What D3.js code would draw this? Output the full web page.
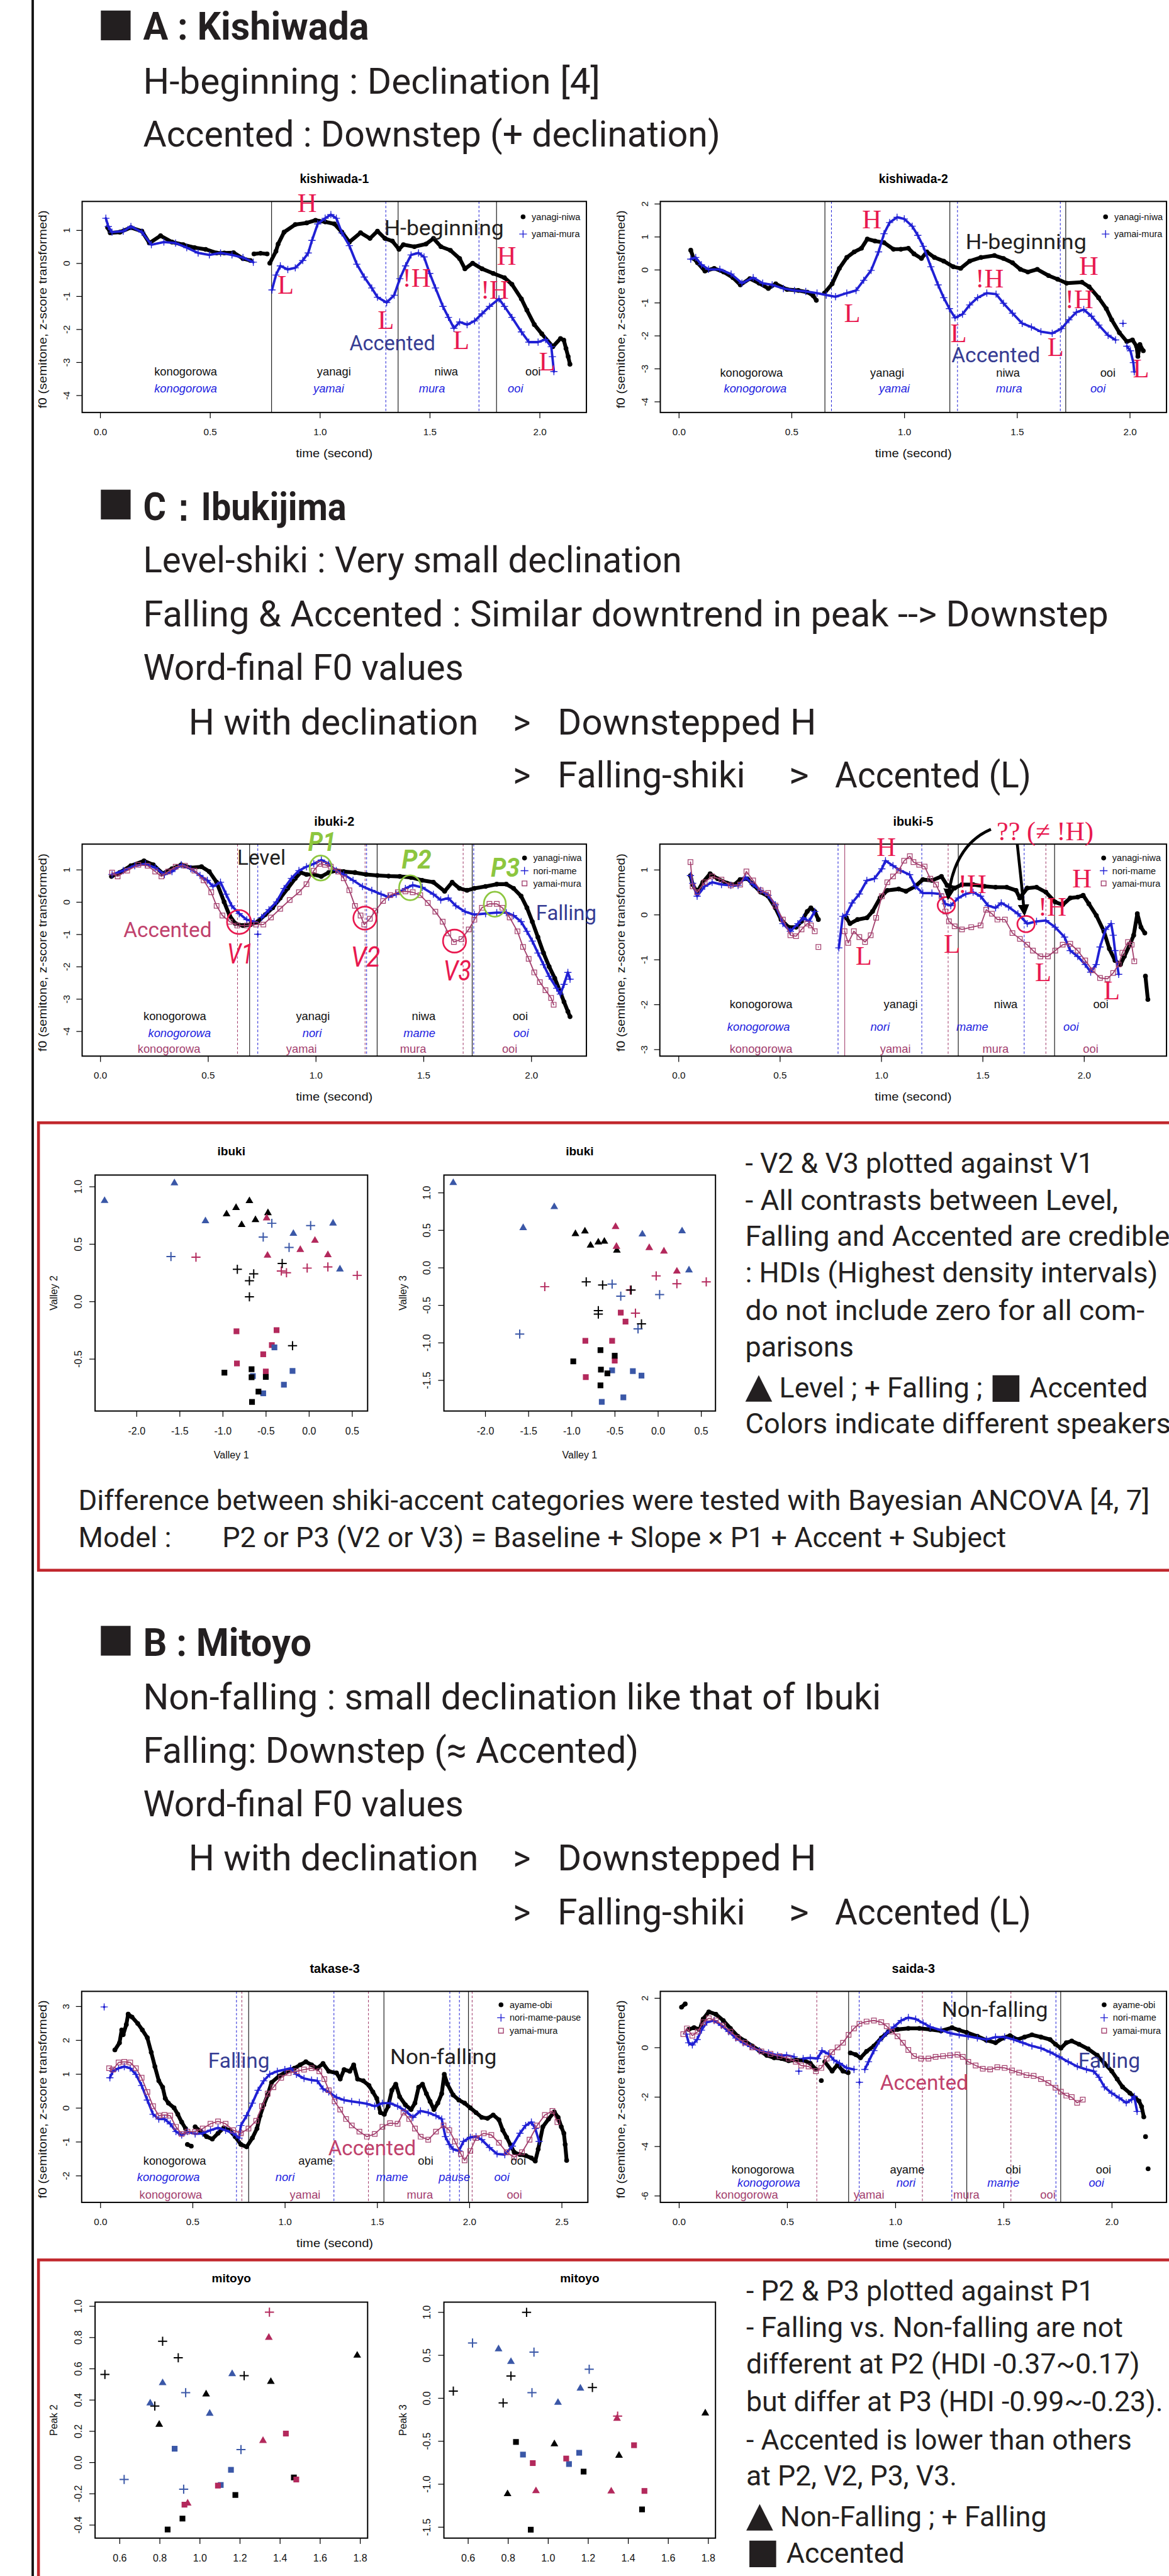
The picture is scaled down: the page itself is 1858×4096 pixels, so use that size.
<!DOCTYPE html>
<html>
<head>
<meta charset="utf-8">
<script src="https://cdn.jsdelivr.net/npm/d3@7"></script>
<style>
  body { margin: 0; background: #fff; }
  svg { display: block; }
</style>
</head>
<body>
<div id="chart"></div>
<script>
// ---------- f0 tracks: [time (s), f0 (z-score)], null = gap ----------
const kishi1Niwa = [[0.034,1.08],[0.046,0.92],[0.09,0.94],[0.14,1.08],[0.19,0.97],[0.224,0.61],[0.275,0.83],[0.327,0.64],[0.378,0.56],[0.43,0.47],[0.48,0.42],[0.53,0.31],[0.565,0.31],[0.607,0.32],[0.65,0.14],[0.684,0.08],null,[0.70,0.28],[0.73,0.30],[0.76,0.28],null,[0.772,0.0],[0.80,0.36],[0.81,0.58],[0.837,0.94],[0.888,1.17],[0.94,1.22],[0.98,1.30],[1.024,1.25],[1.066,1.19],[1.10,0.94],[1.134,0.64],[1.185,0.92],[1.228,0.75],[1.262,0.97],[1.296,0.75],[1.33,0.67],[1.36,0.42],[1.38,0.56],[1.43,0.50],[1.483,0.58],[1.517,0.75],[1.551,0.50],[1.594,0.39],[1.636,0.14],[1.66,-0.17],[1.695,0.0],[1.738,-0.17],[1.789,-0.31],[1.84,-0.44],[1.874,-0.64],[1.917,-1.08],[1.942,-1.42],[1.976,-1.86],[2.01,-2.14],[2.06,-2.53],[2.095,-2.28],[2.11,-2.33],[2.12,-2.58],[2.13,-2.83],[2.138,-3.06]];
const kishi1Mura = [[0.026,1.36],[0.037,1.11],[0.054,0.94],[0.105,0.97],[0.14,1.11],[0.19,0.94],[0.233,0.56],[0.29,0.64],[0.343,0.61],[0.394,0.47],[0.446,0.31],[0.497,0.25],[0.548,0.31],[0.60,0.25],[0.65,0.17],[0.697,0.03],null,[0.782,-0.81],[0.80,-0.36],[0.82,-0.08],[0.854,-0.19],[0.888,-0.14],[0.922,0.08],[0.947,0.31],[0.964,0.69],[0.99,1.19],[1.024,1.36],[1.05,1.47],[1.075,1.36],[1.10,0.92],[1.134,0.53],[1.168,-0.03],[1.202,-0.42],[1.236,-0.75],[1.262,-1.03],[1.304,-1.19],[1.338,-0.97],[1.364,-0.47],[1.39,-0.08],[1.415,0.25],[1.449,0.31],[1.474,0.19],[1.50,-0.31],[1.526,-0.75],[1.56,-1.31],[1.585,-1.64],[1.61,-1.97],[1.636,-1.78],[1.67,-1.86],[1.704,-1.75],[1.738,-1.53],[1.772,-1.31],[1.815,-1.08],[1.84,-1.31],[1.874,-1.64],[1.917,-2.08],[1.951,-2.39],[1.993,-2.39],[2.027,-2.31],[2.053,-2.53],[2.058,-2.83],[2.065,-3.28]];
const kishi2Niwa = [[0.053,0.59],[0.066,0.34],[0.083,0.21],[0.116,-0.04],[0.157,0.04],[0.199,-0.07],[0.24,-0.24],[0.273,-0.46],[0.315,-0.27],[0.356,-0.41],[0.397,-0.57],[0.43,-0.43],[0.48,-0.60],[0.53,-0.63],[0.57,-0.68],[0.596,-0.79],[0.61,-0.93],null,[0.646,-0.71],[0.68,-0.43],[0.712,0.04],[0.745,0.37],[0.778,0.54],[0.81,0.65],[0.836,0.93],[0.87,0.87],[0.91,0.82],[0.952,0.62],[0.985,0.62],[1.018,0.65],[1.043,0.48],[1.076,0.34],[1.10,0.54],[1.134,0.37],[1.175,0.26],[1.217,0.09],[1.25,0.04],[1.29,0.26],[1.34,0.37],[1.40,0.43],[1.44,0.34],[1.48,0.21],[1.515,0.01],[1.548,-0.07],[1.59,0.01],[1.64,-0.18],[1.68,-0.29],[1.72,-0.41],[1.788,-0.38],[1.82,-0.52],[1.862,-0.85],[1.896,-1.18],[1.92,-1.52],[1.954,-1.91],[1.987,-2.18],[2.012,-2.13],[2.03,-2.32],[2.036,-2.63],[2.045,-2.27],[2.06,-2.46]];
const kishi2Mura = [[0.053,0.32],[0.075,0.37],[0.10,0.15],[0.132,0.01],[0.182,0.01],[0.232,-0.13],[0.28,-0.41],[0.33,-0.24],[0.372,-0.41],[0.414,-0.46],[0.464,-0.57],[0.513,-0.63],[0.563,-0.66],[0.613,-0.71],[0.654,-0.77],[0.695,-0.82],[0.745,-0.71],[0.786,-0.63],[0.82,-0.32],[0.853,-0.02],[0.886,0.54],[0.91,1.09],[0.935,1.43],[0.968,1.59],[1.0,1.54],[1.035,1.32],[1.06,1.04],[1.084,0.71],[1.118,0.09],[1.15,-0.46],[1.175,-0.85],[1.20,-1.18],[1.225,-1.46],[1.258,-1.35],[1.29,-1.07],[1.325,-0.85],[1.366,-0.71],[1.407,-0.74],[1.44,-1.02],[1.48,-1.32],[1.523,-1.63],[1.564,-1.74],[1.606,-1.88],[1.656,-1.93],[1.697,-1.79],[1.73,-1.52],[1.763,-1.29],[1.796,-1.21],[1.83,-1.41],[1.863,-1.68],[1.904,-1.99],[1.937,-2.13],null,[1.97,-1.63],null,[1.987,-2.32],[2.003,-2.46],[2.016,-2.82],[2.02,-3.10]];

const ibuki2Niwa = [[0.052,0.79],[0.09,0.91],[0.142,1.12],[0.203,1.27],[0.246,1.15],[0.29,0.88],[0.333,1.03],[0.376,1.15],[0.42,1.06],[0.47,1.09],[0.506,0.94],[0.54,0.61],[0.575,0.0],[0.60,-0.42],[0.627,-0.67],[0.662,-0.73],[0.697,-0.70],[0.731,-0.61],[0.766,-0.39],[0.80,-0.18],[0.835,0.12],[0.87,0.42],[0.905,0.73],[0.93,0.91],[0.957,0.85],[0.99,0.85],[1.026,0.79],[1.06,0.91],[1.095,0.97],[1.13,0.94],[1.182,0.91],[1.234,0.85],[1.286,0.82],[1.338,0.80],[1.39,0.79],[1.442,0.76],[1.494,0.67],[1.546,0.61],[1.598,0.33],[1.633,0.61],[1.667,0.42],[1.702,0.36],[1.736,0.42],[1.788,0.48],[1.84,0.55],[1.884,0.55],[1.918,0.42],[1.953,0.18],[1.98,-0.18],[2.005,-0.61],[2.031,-1.09],[2.057,-1.58],[2.083,-2.0],[2.109,-2.36],[2.135,-2.79],[2.152,-3.09],[2.17,-3.39],[2.18,-3.55]];
const ibuki2Mame = [[0.055,0.85],[0.107,0.97],[0.16,1.12],[0.21,1.18],[0.255,1.06],[0.298,0.85],[0.333,0.94],[0.376,1.15],[0.42,1.03],[0.463,0.82],[0.497,0.67],[0.523,0.48],[0.558,0.61],[0.584,0.24],[0.61,-0.12],[0.645,-0.36],[0.68,-0.55],[0.714,-0.61],null,[0.731,-1.0],null,[0.749,-0.48],[0.783,-0.24],[0.818,0.0],[0.853,0.42],[0.887,0.73],[0.922,0.97],[0.957,1.09],[0.991,1.18],[1.026,1.30],[1.06,1.18],[1.095,0.97],[1.13,0.85],[1.173,0.67],[1.217,0.48],[1.26,0.36],[1.303,0.24],[1.338,0.15],[1.373,0.24],[1.416,0.42],[1.45,0.52],[1.494,0.45],[1.546,0.24],[1.58,0.06],[1.615,0.12],[1.65,-0.12],[1.693,-0.30],[1.736,-0.39],[1.788,-0.36],[1.84,-0.33],[1.884,-0.33],[1.918,-0.42],[1.953,-0.61],[1.98,-0.91],[2.005,-1.21],[2.031,-1.58],[2.057,-1.94],[2.083,-2.30],[2.118,-2.67],[2.135,-2.85],[2.152,-2.55],[2.17,-2.18],[2.18,-2.39]];
const ibuki2Mura = [[0.055,0.91],[0.081,0.79],[0.125,0.97],[0.177,1.15],[0.22,1.12],[0.255,0.94],[0.284,0.79],[0.315,0.94],[0.35,1.09],[0.393,1.12],[0.437,0.97],[0.48,0.67],[0.515,0.30],[0.54,-0.12],[0.567,-0.42],[0.601,-0.61],[0.636,-0.73],[0.68,-0.73],[0.723,-0.70],[0.757,-0.70],[0.792,-0.48],[0.835,-0.21],[0.879,0.06],[0.922,0.30],[0.957,0.55],[0.991,0.97],[1.017,1.18],[1.043,1.15],[1.07,1.09],[1.104,0.94],[1.13,0.73],[1.156,0.36],[1.182,-0.12],[1.208,-0.42],[1.225,-0.70],[1.251,-0.52],[1.277,-0.27],[1.312,0.03],[1.346,0.21],[1.381,0.30],[1.416,0.33],[1.45,0.30],[1.485,0.21],[1.52,-0.03],[1.555,-0.30],[1.589,-0.61],[1.615,-0.97],[1.641,-1.24],[1.676,-1.15],[1.71,-0.85],[1.736,-0.55],[1.771,-0.18],[1.806,-0.06],[1.84,-0.06],[1.866,-0.18],[1.90,-0.48],[1.936,-0.91],[1.962,-1.39],[1.988,-1.76],[2.014,-2.18],[2.04,-2.48],[2.066,-2.73],[2.092,-2.97],[2.104,-3.18]];

const ibuki5Niwa = [[0.059,0.87],[0.07,0.67],[0.092,0.50],[0.12,0.72],[0.156,0.91],[0.193,0.80],[0.239,0.70],[0.276,0.67],[0.304,0.78],[0.34,0.80],[0.368,0.67],[0.405,0.50],[0.442,0.41],[0.478,0.15],[0.506,-0.11],[0.543,-0.28],[0.58,-0.28],[0.607,-0.15],[0.635,0.07],[0.653,0.15],[0.672,0.07],[0.69,-0.11],null,[0.828,-0.07],[0.846,-0.20],[0.883,-0.11],[0.93,-0.07],[0.957,0.07],[0.994,0.37],[1.03,0.54],[1.086,0.57],[1.122,0.52],[1.168,0.63],[1.205,0.78],[1.25,0.76],[1.297,0.85],[1.325,0.65],[1.362,0.59],[1.398,0.67],[1.453,0.67],[1.509,0.63],[1.564,0.61],[1.619,0.61],[1.665,0.54],[1.683,0.37],[1.72,0.59],[1.766,0.61],[1.812,0.50],[1.858,0.28],[1.895,0.22],[1.932,0.37],[1.969,0.39],[1.996,0.43],[2.024,0.24],[2.061,-0.02],[2.098,-0.37],[2.125,-0.76],[2.153,-1.02],[2.18,-1.11],[2.199,-0.93],[2.226,-0.67],[2.245,-0.46],[2.263,0.02],[2.281,-0.28],[2.30,-0.41],null,[2.303,-1.37],[2.315,-1.89]];
const ibuki5Mame = [[0.059,0.87],[0.07,0.70],[0.092,0.41],[0.129,0.63],[0.166,0.72],[0.212,0.67],[0.258,0.65],[0.294,0.65],[0.331,0.83],[0.368,0.67],[0.405,0.54],[0.442,0.43],[0.478,0.22],[0.515,-0.20],[0.552,-0.37],[0.589,-0.20],[0.616,-0.07],[0.644,-0.15],[0.672,0.07],null,[0.791,-0.74],[0.81,-0.04],[0.828,0.0],[0.856,0.26],[0.892,0.46],[0.929,0.76],[0.966,0.80],[1.003,1.02],[1.021,1.20],[1.058,1.09],[1.095,0.98],[1.14,0.89],[1.168,0.63],[1.205,0.48],[1.25,0.48],[1.288,0.46],[1.316,0.24],[1.343,0.20],[1.38,0.37],[1.417,0.46],[1.453,0.50],[1.49,0.41],[1.527,0.20],[1.564,0.15],[1.592,0.26],[1.628,0.17],[1.674,0.02],[1.72,-0.20],[1.766,-0.15],[1.812,-0.13],[1.858,-0.28],[1.904,-0.50],[1.932,-0.80],[1.969,-0.93],[2.006,-1.11],[2.033,-1.28],[2.06,-1.11],[2.079,-0.72],[2.107,-0.33],[2.134,-0.20],[2.144,-0.46],[2.153,-0.80],[2.171,-1.33]];
const ibuki5Mura = [[0.059,1.17],[0.07,0.63],[0.092,0.50],[0.129,0.72],[0.166,0.85],[0.212,0.78],[0.258,0.65],[0.304,0.67],[0.335,0.96],[0.368,0.76],[0.405,0.54],[0.442,0.48],[0.478,0.20],[0.515,-0.11],[0.552,-0.46],[0.58,-0.48],[0.607,-0.33],[0.635,-0.20],[0.653,-0.24],[0.672,-0.37],null,[0.69,-0.72],null,[0.819,-0.37],[0.837,-0.63],[0.865,-0.37],[0.892,-0.50],[0.92,-0.61],[0.948,-0.46],[0.975,-0.07],[1.003,0.41],[1.03,0.72],[1.058,0.85],[1.086,0.98],[1.113,1.20],[1.141,1.30],[1.159,1.17],[1.187,1.11],[1.214,1.07],[1.242,0.80],[1.27,0.67],[1.297,0.41],[1.316,0.07],[1.334,-0.15],[1.362,-0.26],[1.398,-0.33],[1.444,-0.28],[1.49,-0.24],[1.518,0.11],[1.546,0.02],[1.573,-0.11],[1.61,-0.11],[1.647,-0.41],[1.684,-0.54],[1.72,-0.67],[1.748,-0.80],[1.785,-0.93],[1.822,-0.93],[1.858,-0.80],[1.895,-0.67],[1.932,-0.65],[1.969,-0.80],[2.006,-1.02],[2.042,-1.24],[2.079,-1.41],[2.116,-1.43],[2.144,-1.30],[2.171,-1.11],[2.189,-0.85],[2.217,-0.61],[2.235,-0.67],[2.248,-1.04]];

const takaseObi = [[0.079,1.71],[0.104,1.92],[0.116,2.30],[0.124,2.16],[0.141,2.46],[0.151,2.77],[0.172,2.68],[0.203,2.49],[0.228,2.30],[0.255,2.07],[0.276,1.64],[0.296,1.22],[0.317,0.80],[0.338,0.61],[0.352,0.28],[0.369,0.14],[0.40,0.0],[0.42,-0.19],[0.441,-0.42],[0.462,-0.61],null,[0.472,-1.08],[0.493,-1.13],null,[0.514,-0.56],[0.545,-0.70],[0.576,-0.85],[0.607,-0.92],[0.638,-0.75],[0.669,-0.59],[0.70,-0.66],[0.731,-0.85],[0.762,-1.08],[0.793,-1.15],[0.824,-0.89],[0.849,-0.61],[0.866,-0.23],[0.886,0.09],[0.907,0.38],[0.928,0.75],[0.969,0.94],[1.01,1.08],[1.052,1.17],[1.083,1.27],[1.114,1.36],[1.145,1.27],[1.176,1.17],[1.207,1.31],[1.238,1.08],[1.28,1.03],[1.30,0.85],[1.321,1.13],[1.352,1.08],[1.373,1.27],[1.394,0.85],[1.425,0.80],[1.456,0.66],[1.477,0.47],[1.498,0.28],[1.518,-0.14],[1.539,-0.19],[1.56,0.05],[1.58,0.52],[1.601,0.70],[1.622,0.33],[1.653,0.09],[1.684,-0.05],[1.705,0.14],[1.725,0.61],[1.746,0.70],[1.767,0.42],[1.787,0.19],[1.808,-0.05],[1.829,0.14],[1.85,0.42],[1.864,0.99],[1.881,0.70],[1.912,0.38],[1.943,0.23],[1.974,0.14],[2.005,0.0],[2.036,-0.14],[2.067,-0.28],[2.098,-0.31],[2.129,-0.21],[2.16,-0.35],[2.181,-0.66],[2.202,-0.87],[2.223,-1.10],[2.243,-1.31],[2.274,-1.38],[2.305,-1.41],[2.336,-1.48],[2.357,-1.57],[2.373,-1.22],[2.398,-0.56],[2.429,-0.33],[2.46,-0.12],[2.481,-0.28],[2.498,-0.56],[2.512,-0.75],[2.519,-1.08],[2.527,-1.55]];
const takaseMame = [[0.021,2.98],null,[0.052,0.89],[0.068,1.08],[0.099,1.17],[0.13,1.22],[0.162,1.17],[0.193,0.99],[0.224,0.66],[0.255,0.23],[0.286,-0.19],[0.317,-0.33],[0.348,-0.33],[0.379,-0.47],[0.41,-0.70],[0.441,-0.80],[0.472,-0.70],[0.514,-0.77],[0.555,-0.75],[0.597,-0.66],[0.638,-0.59],[0.679,-0.66],[0.72,-0.75],[0.752,-0.89],[0.762,-0.52],[0.793,-0.23],[0.824,0.14],[0.855,0.52],[0.886,0.80],[0.918,0.99],[0.959,1.08],[1.0,1.13],[1.031,1.17],[1.063,0.99],[1.104,0.87],[1.145,0.82],[1.176,0.80],[1.207,0.56],[1.238,0.47],[1.28,0.31],[1.321,0.23],[1.362,0.19],[1.404,0.16],[1.445,0.12],[1.487,0.05],[1.529,0.14],[1.57,0.14],[1.611,0.05],[1.653,-0.09],[1.694,-0.28],[1.735,-0.09],[1.777,-0.14],[1.819,-0.23],[1.85,-0.33],[1.87,-0.85],[1.891,-1.08],[1.912,-1.22],[1.943,-1.27],[1.968,-0.99],[2.005,-0.87],[2.036,-0.85],[2.067,-0.94],[2.109,-1.17],[2.15,-1.36],[2.192,-1.38],[2.233,-1.13],[2.274,-0.75],[2.305,-0.52],[2.336,-0.42],[2.357,-0.61],[2.378,-0.99]];
const takaseMura = [[0.048,1.17],[0.068,1.13],[0.099,1.34],[0.13,1.36],[0.162,1.34],[0.193,1.17],[0.224,0.89],[0.255,0.47],[0.286,0.05],[0.317,-0.23],[0.348,-0.21],[0.379,-0.23],[0.41,-0.56],[0.441,-0.77],[0.472,-0.70],[0.514,-0.70],[0.555,-0.61],[0.597,-0.47],[0.638,-0.40],[0.679,-0.47],[0.72,-0.66],[0.762,-0.75],[0.803,-0.61],[0.845,-0.38],[0.876,0.05],[0.907,0.42],[0.938,0.61],[0.98,0.89],[1.021,1.03],[1.063,1.08],[1.104,1.13],[1.145,1.17],[1.187,1.08],[1.214,0.85],[1.238,0.52],[1.27,0.19],[1.30,-0.05],[1.332,-0.33],[1.363,-0.52],[1.404,-0.70],[1.445,-0.85],[1.487,-0.77],[1.529,-0.56],[1.57,-0.45],[1.611,-0.47],[1.643,-0.14],[1.674,-0.33],[1.705,-0.61],[1.736,-0.85],[1.777,-0.94],[1.819,-0.70],[1.86,-0.52],[1.891,-0.66],[1.922,-0.99],[1.954,-1.36],[1.974,-1.55],[2.005,-1.27],[2.036,-0.89],[2.078,-0.75],[2.119,-0.80],[2.16,-1.03],[2.202,-1.31],[2.243,-1.46],[2.285,-1.31],[2.326,-0.94],[2.367,-0.52],[2.409,-0.21],[2.45,-0.09],[2.477,-0.42]];

const saidaObi = [[0.012,1.63],[0.029,1.76],null,[0.045,0.73],[0.07,0.80],[0.096,0.73],[0.112,1.15],[0.138,1.44],[0.171,1.34],[0.205,1.09],[0.238,0.77],[0.272,0.45],[0.305,0.26],[0.339,0.06],[0.372,-0.13],[0.406,-0.32],[0.44,-0.42],[0.473,-0.45],[0.507,-0.54],[0.54,-0.51],[0.574,-0.51],[0.607,-0.64],[0.633,-0.89],null,[0.658,-1.34],null,[0.674,-0.58],[0.708,-0.96],[0.733,-0.70],[0.758,-0.96],[0.782,-1.02],null,[0.792,-0.22],[0.817,-0.29],[0.839,-0.42],[0.867,-0.16],[0.901,0.06],[0.935,0.38],[0.968,0.64],[1.01,0.73],[1.06,0.77],[1.111,0.77],[1.161,0.73],[1.211,0.67],[1.262,0.80],[1.295,0.70],[1.329,0.61],[1.379,0.45],[1.421,0.29],[1.463,0.19],[1.497,0.38],[1.53,0.48],[1.564,0.32],[1.597,0.42],[1.631,0.51],[1.673,0.42],[1.715,0.32],[1.74,0.13],[1.765,-0.03],[1.79,0.19],[1.815,0.26],[1.849,0.13],[1.891,-0.06],[1.933,-0.32],[1.966,-0.64],[2.0,-0.96],[2.025,-1.28],[2.05,-1.60],[2.084,-1.85],[2.109,-2.04],[2.126,-2.17],[2.138,-2.40],[2.148,-2.81],null,[2.156,-3.61],null,[2.168,-4.91]];
const saidaMame = [[0.034,0.54],[0.045,0.19],[0.062,0.10],[0.084,0.32],[0.104,0.70],[0.129,1.02],[0.163,1.09],[0.196,0.89],[0.23,0.64],[0.263,0.38],[0.297,0.19],[0.331,0.03],[0.372,-0.13],[0.414,-0.22],[0.456,-0.32],[0.498,-0.32],[0.532,-0.38],null,[0.554,-0.96],null,[0.574,-0.45],[0.607,-0.42],[0.641,-0.45],[0.661,-0.13],[0.691,-0.26],[0.716,-0.51],[0.742,-0.64],[0.775,-0.83],[0.809,-0.89],null,[0.834,-1.41],null,[0.859,-0.89],[0.876,-0.58],[0.901,-0.13],[0.926,0.26],[0.96,0.58],[0.993,0.83],[1.027,1.09],[1.06,1.21],[1.094,1.15],[1.128,0.99],[1.161,0.83],[1.211,0.70],[1.253,0.58],[1.295,0.51],[1.337,0.45],[1.379,0.38],[1.421,0.32],[1.463,0.42],[1.505,0.42],[1.547,0.32],[1.589,0.19],[1.631,0.06],[1.673,-0.03],[1.715,-0.19],[1.757,-0.38],[1.799,-0.58],[1.841,-0.77],[1.883,-0.89],[1.916,-0.96],[1.941,-1.21],[1.966,-1.60],[2.0,-1.85],[2.034,-2.04],[2.067,-2.24],[2.092,-2.11],[2.104,-1.98],[2.117,-2.59]];
const saidaMura = [[0.02,0.54],[0.037,0.77],[0.062,0.48],[0.087,0.64],[0.112,1.02],[0.138,1.18],[0.171,1.09],[0.205,0.89],[0.238,0.64],[0.272,0.38],[0.305,0.19],[0.339,0.0],[0.381,-0.16],[0.423,-0.26],[0.465,-0.35],[0.507,-0.45],[0.54,-0.58],[0.565,-0.73],[0.599,-0.77],[0.633,-0.96],[0.658,-0.83],[0.683,-0.45],[0.708,-0.19],[0.733,0.0],[0.758,0.19],[0.784,0.51],[0.809,0.77],[0.834,0.96],[0.867,1.05],[0.901,1.09],[0.935,1.02],[0.96,0.86],[0.985,0.64],[1.01,0.45],[1.035,0.19],[1.06,-0.10],[1.086,-0.35],[1.119,-0.45],[1.153,-0.45],[1.186,-0.38],[1.22,-0.35],[1.253,-0.32],[1.287,-0.29],[1.312,-0.38],[1.337,-0.58],[1.371,-0.73],[1.404,-0.86],[1.438,-0.89],[1.471,-0.80],[1.505,-0.83],[1.539,-0.93],[1.572,-1.02],[1.606,-1.12],[1.639,-1.15],[1.673,-1.28],[1.707,-1.44],[1.74,-1.63],[1.765,-1.79],[1.79,-1.95],[1.815,-2.01],[1.84,-2.24],[1.866,-2.11]];

// segment boundaries: [time, kind]  s = solid, b = blue dashed, p = purple dashed, ps = purple solid
const kishi1Bounds = [[0.78,"s"],[1.356,"s"],[1.804,"s"],[1.30,"b"],[1.724,"b"]];
const kishi2Bounds = [[0.648,"s"],[1.202,"s"],[1.716,"s"],[0.677,"b"],[1.236,"b"],[1.692,"b"]];
const ibuki2Bounds = [[0.693,"s"],[1.285,"s"],[1.726,"s"],[0.731,"b"],[1.236,"b"],[1.733,"b"],[0.637,"p"],[1.229,"p"],[1.684,"p"]];
const ibuki5Bounds = [[1.38,"s"],[1.855,"s"],[0.82,"ps"],[0.787,"b"],[1.2,"b"],[1.705,"b"],[1.33,"p"],[1.812,"p"]];
const takaseBounds = [[0.804,"s"],[1.537,"s"],[1.995,"s"],[0.738,"b"],[1.266,"b"],[1.894,"b"],[1.946,"b"],[0.767,"p"],[1.453,"p"],[2.015,"p"]];
const saidaBounds = [[0.784,"s"],[1.33,"s"],[1.764,"s"],[0.833,"b"],[1.261,"b"],[1.742,"b"],[0.637,"p"],[1.125,"p"],[1.534,"p"]];

// word labels: [text, time, f0, row colour]
const kishi1Words = [["konogorowa",0.389,-3.27,"k"],["konogorowa",0.389,-3.79,"b"],["yanagi",1.064,-3.27,"k"],["yamai",1.04,-3.79,"b"],["niwa",1.575,-3.27,"k"],["mura",1.51,-3.79,"b"],["ooi",1.97,-3.27,"k"],["ooi",1.89,-3.79,"b"]];
const kishi2Words = [["konogorowa",0.322,-3.12,"k"],["konogorowa",0.339,-3.61,"b"],["yanagi",0.924,-3.12,"k"],["yamai",0.956,-3.61,"b"],["niwa",1.46,-3.12,"k"],["mura",1.465,-3.61,"b"],["ooi",1.903,-3.12,"k"],["ooi",1.859,-3.61,"b"]];
const ibuki2Words = [["konogorowa",0.346,-3.54,"k"],["konogorowa",0.368,-4.05,"b"],["konogorowa",0.319,-4.54,"p"],["yanagi",0.987,-3.54,"k"],["nori",0.983,-4.05,"b"],["yamai",0.934,-4.54,"p"],["niwa",1.501,-3.54,"k"],["mame",1.481,-4.05,"b"],["mura",1.452,-4.54,"p"],["ooi",1.949,-3.54,"k"],["ooi",1.953,-4.05,"b"],["ooi",1.90,-4.54,"p"]];
const ibuki5Words = [["konogorowa",0.407,-1.99,"k"],["konogorowa",0.395,-2.49,"b"],["konogorowa",0.407,-2.98,"p"],["yanagi",1.096,-1.99,"k"],["nori",0.994,-2.49,"b"],["yamai",1.07,-2.98,"p"],["niwa",1.614,-1.99,"k"],["mame",1.449,-2.49,"b"],["mura",1.564,-2.98,"p"],["ooi",2.083,-1.99,"k"],["ooi",1.936,-2.49,"b"],["ooi",2.033,-2.98,"p"]];
const takaseWords = [["konogorowa",0.403,-1.56,"k"],["konogorowa",0.369,-2.04,"b"],["konogorowa",0.382,-2.56,"p"],["ayame",1.167,-1.56,"k"],["nori",1.001,-2.04,"b"],["yamai",1.11,-2.56,"p"],["obi",1.763,-1.56,"k"],["mame",1.581,-2.04,"b"],["pause",1.919,-2.04,"b"],["mura",1.732,-2.56,"p"],["ooi",2.265,-1.56,"k"],["ooi",2.176,-2.04,"b"],["ooi",2.244,-2.56,"p"]];
const saidaWords = [["konogorowa",0.388,-4.95,"k"],["konogorowa",0.415,-5.48,"b"],["konogorowa",0.313,-5.96,"p"],["ayame",1.055,-4.95,"k"],["nori",1.049,-5.48,"b"],["yamai",0.878,-5.96,"p"],["obi",1.545,-4.95,"k"],["mame",1.499,-5.48,"b"],["mura",1.328,-5.96,"p"],["ooi",1.962,-4.95,"k"],["ooi",1.929,-5.48,"b"],["ooi",1.705,-5.96,"p"]];

// annotations: [text, time, f0, kind, width]
const kishi1Notes = [["H",0.942,1.56,"hl"],["L",0.844,-0.92,"hl"],["L",1.30,-1.99,"hl"],["!H",1.44,-0.72,"hl"],["L",1.643,-2.60,"hl"],["!H",1.796,-1.08,"hl"],["H",1.85,-0.05,"hl"],["L",2.034,-3.24,"hl"],["H-beginning",1.565,0.84,"ink",249],["Accented",1.33,-2.63,"navy",179]];
const kishi2Notes = [["H",0.856,1.26,"hl"],["L",0.769,-1.58,"hl"],["L",1.241,-2.20,"hl"],["!H",1.378,-0.54,"hl"],["L",1.671,-2.62,"hl"],["H",1.818,-0.16,"hl"],["!H",1.776,-1.16,"hl"],["L",2.05,-3.26,"hl"],["H-beginning",1.54,0.62,"ink",252],["Accented",1.406,-2.81,"navy",185]];
const ibuki2Notes = [["Level",0.748,1.15,"ink",101],["P1",1.029,1.58,"green",58],["P2",1.468,1.03,"green",62],["P3",1.88,0.79,"green",60],["V1",0.65,-1.91,"vred",55],["V2",1.231,-2.01,"vred",61],["V3",1.657,-2.43,"vred",58],["Accented",0.3125,-1.09,"pink",184],["Falling",2.162,-0.57,"navy",126]];
const ibuki5Notes = [["H",1.025,1.31,"hl"],["L",0.914,-1.11,"hl"],["L",1.349,-0.85,"hl"],["!H",1.449,0.48,"hl"],["L",1.799,-1.48,"hl"],["!H",1.844,-0.03,"hl"],["H",1.99,0.60,"hl"],["L",2.137,-1.89,"hl"],["?? (\u2260 !H)",1.808,1.65,"q",202]];
const takaseNotes = [["Falling",0.751,1.19,"navy",128],["Non-falling",1.859,1.30,"ink",222],["Accented",1.473,-1.39,"pink",183]];
const saidaNotes = [["Non-falling",1.46,1.24,"ink",221],["Falling",1.988,-0.82,"navy",129],["Accented",1.133,-1.71,"pink",184]];

// rings round peaks / valleys: [time, f0, colour, rx, ry]
const ibuki2Rings = [[1.023,1.05,"g",23,26],[1.438,0.44,"g",23,26],[1.831,-0.07,"g",23,26],[0.644,-0.62,"r",25,25],[1.228,-0.50,"r",24,24],[1.644,-1.21,"r",24,24]];
const ibuki5Rings = [[1.321,0.21,"r",18,17],[1.714,-0.21,"r",18,17]];
// arrows: [t0, v0, tControl, vControl, t1, v1]
const ibuki5Arrows = [[1.541,1.90,1.359,1.55,1.33,0.37],[1.671,1.57,1.69,0.8,1.706,0.02]];

// scatter: [shape, speaker, V1, V2, V3]
const ibukiRows = [
  ["tri","b",-2.37,0.876,1.13],["tri","b",-1.56,1.03,0.53],["tri","b",-1.20,0.70,0.81],["tri","b",-0.18,0.59,0.445],["tri","b",0.28,0.68,0.487],["tri","b",0.36,0.28,-0.034],
  ["tri","k",-0.955,0.76,0.45],["tri","k",-0.845,0.815,0.485],["tri","k",-0.69,0.875,0.338],["tri","k",-0.475,0.77,0.23],["tri","k",-0.62,0.71,0.348],["tri","k",-0.78,0.667,0.296],
  ["tri","r",-0.49,0.725,0.545],["tri","r",-0.48,0.40,0.28],["tri","r",0.07,0.53,0.217],["tri","r",-0.10,0.45,0.264],["tri","r",0.22,0.405,-0.05],
  ["plus","b",-1.60,0.39,-0.887],["plus","b",-0.53,0.56,-0.22],["plus","b",-0.43,0.68,-0.38],["plus","b",-0.23,0.47,-0.817],["plus","b",0.02,0.66,-0.36],
  ["plus","r",-1.31,0.385,-0.254],["plus","r",-0.32,0.265,-0.30],["plus","r",-0.26,0.25,-0.607],["plus","r",-0.02,0.29,-0.11],["plus","r",0.22,0.30,-0.215],["plus","r",0.56,0.227,-0.19],
  ["plus","k",-0.83,0.28,-0.19],["plus","k",-0.64,0.24,-0.233],["plus","k",-0.69,0.18,-0.573],["plus","k",-0.31,0.33,-0.30],["plus","k",-0.69,0.04,-0.62],["plus","k",-0.19,-0.385,-0.75],
  ["sq","r",-0.84,-0.26,-0.976],["sq","r",-0.835,-0.54,-1.46],["sq","r",-0.375,-0.25,-0.72],["sq","r",-0.43,-0.38,-0.60],["sq","r",-0.53,-0.46,-0.976],["sq","r",-0.50,-0.61,-1.24],
  ["sq","b",-0.40,-0.40,-1.73],["sq","b",-0.19,-0.605,-1.44],["sq","b",-0.65,-0.65,-1.79],["sq","b",-0.29,-0.725,-1.38],["sq","b",-0.53,-0.80,-1.37],
  ["sq","k",-0.98,-0.62,-1.25],["sq","k",-0.665,-0.59,-1.10],["sq","k",-0.665,-0.66,-1.57],["sq","k",-0.50,-0.657,-1.175],["sq","k",-0.585,-0.785,-1.41],["sq","k",-0.66,-0.875,-1.36]
];
// scatter: [shape, speaker, P1, P2, P3]
const mitoyoRows = [
  ["plus","k",0.527,0.562,0.081],["plus","k",0.815,0.775,0.257],["plus","k",0.893,0.669,0.997],["plus","k",0.776,0.360,-0.056],["plus","k",1.222,0.554,0.123],
  ["plus","b",0.623,-0.110,0.641],["plus","b",0.930,0.446,0.535],["plus","b",0.920,-0.172,0.063],["plus","b",1.206,0.081,0.335],
  ["plus","r",1.348,0.961,-0.211],
  ["tri","k",1.786,0.684,-0.176],["tri","k",1.032,0.436,-0.535],["tri","k",0.798,0.242,-1.116],["tri","k",1.355,0.516,-0.669],
  ["tri","b",0.815,0.508,0.423],["tri","b",0.753,0.378,0.570],["tri","b",1.050,0.312,-0.053],["tri","b",1.162,0.566,0.113],
  ["tri","r",1.345,0.798,-0.239],["tri","r",1.316,0.138,-1.085],["tri","r",0.940,-0.262,-1.081],
  ["sq","k",0.840,-0.430,-0.511],["sq","k",0.914,-0.360,-1.532],["sq","k",1.178,-0.209,-0.856],["sq","k",1.470,-0.097,-1.296],
  ["sq","b",0.875,0.087,-0.658],["sq","b",1.156,-0.048,-0.637],["sq","b",1.105,-0.145,-0.768],
  ["sq","r",1.091,-0.149,-0.704],["sq","r",0.924,-0.271,-0.757],["sq","r",1.430,0.184,-0.549],["sq","r",1.482,-0.110,-1.081]
];

// poster text: [text, x, baseline, size, width, bold]
const headings = [
  ["A : Kishiwada",298,83,79,471,true],
  ["H-beginning : Declination [4]",298,195,76,953],
  ["Accented : Downstep (+ declination)",298,306,76,1203],
  ["C\uFF1AIbukijima",298,1084,79,424,true],
  ["Level-shiki : Very small declination",298,1193,76,1123],
  ["Falling & Accented : Similar downtrend in peak --> Downstep",298,1306,76,2012],
  ["Word-final F0 values",298,1417,76,668],
  ["H with declination",393,1531,76,604],[">",1069,1531,76,37],["Downstepped H",1162,1531,76,539],
  [">",1069,1642,76,37],["Falling-shiki",1162,1642,76,391],[">",1644,1642,76,42],["Accented (L)",1740,1642,76,409],
  ["Difference between shiki-accent categories were tested with Bayesian ANCOVA [4, 7]",163,3148,58,2233],
  ["Model :",163,3226,58,194],
  ["P2 or P3 (V2 or V3) = Baseline + Slope \u00D7 P1 + Accent + Subject",463,3226,58,1634],
  ["B : Mitoyo",298,3453,79,351,true],
  ["Non-falling : small declination like that of Ibuki",298,3564,76,1538],
  ["Falling: Downstep (\u2248 Accented)",298,3676,76,1033],
  ["Word-final F0 values",298,3787,76,668],
  ["H with declination",393,3900,76,604],[">",1069,3900,76,37],["Downstepped H",1162,3900,76,539],
  [">",1069,4012,76,37],["Falling-shiki",1162,4012,76,391],[">",1644,4012,76,42],["Accented (L)",1740,4012,76,409]
];
const headSquares = [22, 1021, 3390];
const ibukiText = [
  ["- V2 & V3 plotted against V1",2445,726],
  ["- All contrasts between Level,",2523,777],
  ["Falling and Accented are credible",2598,885],
  [": HDIs (Highest density intervals)",2674,860],
  ["do not include zero for all com-",2752,832],
  ["parisons",2828,226],
  ["\u25B2 Level ; + Falling ; \u25A0 Accented",2914,839],
  ["Colors indicate different speakers",2988,887]
];
const mitoyoText = [
  ["- P2 & P3 plotted against P1",4797],
  ["- Falling vs. Non-falling are not",4873],
  ["different at P2 (HDI -0.37~0.17)",4949],
  ["but differ at P3 (HDI -0.99~-0.23).",5028],
  ["- Accented is lower than others",5107],
  ["at P2, V2, P3, V3.",5182],
  ["\u25B2 Non-Falling ; + Falling",5268],
  ["\u25A0 Accented",5344]
];

// ---------- drawing ----------
const W = 2436, H = 5371;
const HEAD = "'Liberation Sans Narrow','Roboto','Open Sans',sans-serif";
const RF = "'Liberation Sans',Arial,sans-serif";
const SERIF = "'Liberation Serif','DejaVu Serif',serif";
const INK = "#231f20", BLUE = "#2020d4", PURPLE = "#a3406e", RED = "#e8194f",
      GREEN = "#8dc63f", NAVY = "#363c93", PINK = "#c0416c", FRAME = "#c1272d";
const spkCol = {b: "#3a57a7", r: "#b3295c", k: "#000"};
const wordCol = {k: "#111", b: "#1c1ce0", p: PURPLE};

const svg = d3.select("#chart").append("svg")
  .attr("width", 1858).attr("height", 4096)
  .attr("viewBox", `0 0 ${W} ${H}`);
svg.append("rect").attr("width", W).attr("height", H).attr("fill", "#fff");

svg.append("defs").append("marker")
  .attr("id", "arrowHead").attr("viewBox", "0 0 10 10")
  .attr("refX", 8).attr("refY", 5).attr("markerWidth", 4).attr("markerHeight", 4)
  .attr("orient", "auto")
  .append("path").attr("d", "M0,0L10,5L0,10z").attr("fill", "#000");

// text helper; the symbols ▲ and ■ are set larger, as on the poster
function label(parent, x, y, str, o) {
  let x0 = x, anchor = o.anchor || "start";
  if (o.len && anchor === "middle") { x0 = x - o.len / 2; anchor = "start"; }
  const t = parent.append("text").attr("x", x0).attr("y", y)
    .attr("font-family", o.font || HEAD).attr("font-size", o.size)
    .attr("fill", o.fill || INK).attr("text-anchor", anchor);
  if (/[\u25B2\u25A0]/.test(str)) {
    str.split(/([\u25B2\u25A0])/).filter(s => s !== "").forEach(part => {
      const sp = t.append("tspan").text(part);
      if (/[\u25B2\u25A0]/.test(part)) sp.attr("font-size", o.size * 1.25).attr("font-family", "'DejaVu Sans',sans-serif");
    });
  } else {
    t.text(str);
  }
  if (o.weight) t.attr("font-weight", o.weight);
  if (o.style) t.attr("font-style", o.style);
  if (o.len) t.attr("textLength", o.len).attr("lengthAdjust", "spacingAndGlyphs");
  return t;
}

const num = (d, n) => (d < 0 ? "-" : "") + Math.abs(d).toFixed(n);

function markerPath(type, size) {
  const h = size / 2;
  if (type === "plus") return `M${-h},0H${h}M0,${-h}V${h}`;
  if (type === "square" || type === "sq") return `M${-h},${-h}h${size}v${size}h${-size}z`;
  if (type === "tri") return d3.symbol().type(d3.symbolTriangle).size(size * size * 0.5)();
  return d3.symbol().type(d3.symbolCircle).size(Math.PI * h * h)();
}

function axes(g, x, y, c, xDec, yDec, fs, padX, offY) {
  const [l, t, r, b] = c.box;
  const xa = g.append("g").attr("transform", `translate(0,${b})`)
    .call(d3.axisBottom(x).tickValues(c.xTicks).tickSize(12).tickSizeOuter(0)
      .tickPadding(padX).tickFormat(d => num(d, xDec)));
  const ya = g.append("g").attr("transform", `translate(${l},0)`)
    .call(d3.axisLeft(y).tickValues(c.yTicks).tickSize(12).tickSizeOuter(0)
      .tickFormat(d => num(d, yDec)));
  [xa, ya].forEach(a => {
    a.select(".domain").remove();
    a.attr("font-family", RF).attr("font-size", fs);
    a.selectAll("line").attr("stroke", "#000").attr("stroke-width", 1.6);
    a.selectAll("text").attr("fill", "#111");
  });
  ya.selectAll("text").attr("transform", "rotate(-90)").attr("x", 0)
    .attr("y", -offY).attr("dy", "0.35em").attr("text-anchor", "middle");
  g.append("rect").attr("x", l).attr("y", t).attr("width", r - l).attr("height", b - t)
    .attr("fill", "none").attr("stroke", "#000").attr("stroke-width", 2.6);
}

function lineChart(c) {
  const g = svg.append("g");
  const [l, t, r, b] = c.box;
  const x = d3.scaleLinear().domain(c.xd).range([l, r]);
  const y = d3.scaleLinear().domain(c.yd).range([b, t]);

  // segment boundaries
  c.bounds.forEach(([tm, k]) => {
    g.append("line").attr("x1", x(tm)).attr("x2", x(tm)).attr("y1", t).attr("y2", b)
      .attr("stroke", k === "s" ? "#222" : k === "b" ? "#2a2ad8" : PURPLE)
      .attr("stroke-width", k === "s" ? 1.6 : 1.4)
      .attr("stroke-dasharray", (k === "b" || k === "p") ? "5,4" : null);
  });

  // f0 tracks
  c.series.forEach(s => {
    const col = s.type === "dot" ? "#000" : s.type === "plus" ? BLUE : PURPLE;
    const line = d3.line().defined(d => d !== null).x(d => x(d[0])).y(d => y(d[1]));
    g.append("path").attr("d", line(s.data)).attr("fill", "none").attr("stroke", col)
      .attr("stroke-width", s.type === "dot" ? 8 : s.type === "plus" ? 5 : 2.4)
      .attr("stroke-linejoin", "round").attr("stroke-linecap", "round");
    const pts = s.data.filter(d => d !== null);
    const size = s.type === "dot" ? 10 : s.type === "plus" ? 15 : 10;
    g.append("g").selectAll("path").data(pts).join("path")
      .attr("transform", d => `translate(${x(d[0])},${y(d[1])})`)
      .attr("d", markerPath(s.type, size))
      .attr("fill", s.type === "dot" ? "#000" : "none")
      .attr("stroke", s.type === "dot" ? "none" : col)
      .attr("stroke-width", s.type === "plus" ? 1.8 : 1.6);
  });

  axes(g, x, y, c, 1, 0, 20, 21, 33);

  label(g, (l + r) / 2, t - 38, c.title, {size: 26, font: RF, weight: "bold", anchor: "middle", fill: "#000", len: c.titleLen});
  label(g, (l + r) / 2, b + 93, "time (second)", {size: 24, font: RF, anchor: "middle", fill: "#111", len: 160});
  label(g, 0, 0, "f0 (semitone, z-score transformed)", {size: 24, font: RF, anchor: "middle", fill: "#111", len: 413})
    .attr("transform", `translate(${l - 82},${(t + b) / 2 + 5}) rotate(-90)`).attr("dy", "0.35em");

  // word labels
  c.words.forEach(([w, tm, v, k]) => {
    label(g, x(tm), y(v), w, {size: 24, font: RF, anchor: "middle", fill: wordCol[k], style: k === "b" ? "italic" : null})
      .attr("dy", "0.35em");
  });

  // rings and arrows
  (c.rings || []).forEach(([tm, v, k, rx, ry]) => {
    g.append("ellipse").attr("cx", x(tm)).attr("cy", y(v)).attr("rx", rx).attr("ry", ry)
      .attr("fill", "none").attr("stroke", k === "g" ? GREEN : RED).attr("stroke-width", 3.5);
  });
  (c.arrows || []).forEach(([t0, v0, tc, vc, t1, v1]) => {
    g.append("path").attr("d", `M${x(t0)},${y(v0)}Q${x(tc)},${y(vc)} ${x(t1)},${y(v1)}`)
      .attr("fill", "none").attr("stroke", "#000").attr("stroke-width", 6)
      .attr("marker-end", "url(#arrowHead)");
  });

  // annotations
  c.notes.forEach(([s, tm, v, k, len]) => {
    const px = x(tm), py = y(v);
    if (k === "hl") label(g, px, py, s, {size: 56, font: SERIF, fill: RED, anchor: "middle"});
    else if (k === "q") label(g, px, py, s, {size: 56, font: SERIF, fill: RED, anchor: "middle", len});
    else if (k === "green") label(g, px, py, s, {size: 56, fill: GREEN, anchor: "middle", weight: "bold", style: "italic", len});
    else if (k === "vred") label(g, px, py, s, {size: 58, fill: RED, anchor: "middle", style: "italic", len});
    else {
      const fill = k === "ink" ? INK : k === "navy" ? NAVY : PINK;
      label(g, px, py, s, {size: 44, fill, anchor: "middle", len});
    }
  });

  // legend
  c.series.forEach((s, i) => {
    const ly = c.legend.y + i * c.legend.gap;
    const col = s.type === "dot" ? "#000" : s.type === "plus" ? BLUE : PURPLE;
    g.append("path").attr("transform", `translate(${c.legend.x},${ly})`)
      .attr("d", markerPath(s.type, s.type === "plus" ? 16 : 10))
      .attr("fill", s.type === "dot" ? "#000" : "none")
      .attr("stroke", s.type === "dot" ? "none" : col).attr("stroke-width", 1.8);
    label(g, c.legend.x + 18, ly, s.name, {size: 19, font: RF, fill: "#111"}).attr("dy", "0.35em");
  });
}

function scatter(c) {
  const g = svg.append("g");
  const [l, t, r, b] = c.box;
  const x = d3.scaleLinear().domain(c.xd).range([l, r]);
  const y = d3.scaleLinear().domain(c.yd).range([b, t]);
  axes(g, x, y, c, 1, 1, 21, 22, 35);
  g.selectAll(".pt").data(c.rows).join("path")
    .attr("transform", d => `translate(${x(d[2])},${y(d[c.col])})`)
    .attr("d", d => markerPath(d[0], d[0] === "plus" ? 19 : d[0] === "tri" ? 15 : 12))
    .attr("fill", d => d[0] === "plus" ? "none" : spkCol[d[1]])
    .attr("stroke", d => d[0] === "plus" ? spkCol[d[1]] : "none")
    .attr("stroke-width", 2.6);
  label(g, (l + r) / 2, t - 41, c.title, {size: 25, font: RF, weight: "bold", anchor: "middle", fill: "#000"});
  // the poster is cut just below the mitoyo tick labels, so only draw the x title when it fits
  if (c.xLabel) label(g, (l + r) / 2, b + 99, c.xLabel, {size: 21, font: RF, anchor: "middle", fill: "#111"});
  label(g, 0, 0, c.yLabel, {size: 21, font: RF, anchor: "middle", fill: "#111"})
    .attr("transform", `translate(${l - 86},${(t + b) / 2}) rotate(-90)`).attr("dy", "0.35em");
}

// page frame
svg.append("line").attr("x1", 68).attr("x2", 68).attr("y1", 0).attr("y2", H)
  .attr("stroke", "#111").attr("stroke-width", 5);
svg.append("rect").attr("x", 80).attr("y", 2341).attr("width", W).attr("height", 933)
  .attr("fill", "none").attr("stroke", FRAME).attr("stroke-width", 6);
svg.append("rect").attr("x", 80).attr("y", 4712).attr("width", W).attr("height", 800)
  .attr("fill", "none").attr("stroke", FRAME).attr("stroke-width", 6);

// headings
const textG = svg.append("g");
headSquares.forEach(yy => textG.append("rect").attr("x", 210).attr("y", yy).attr("width", 62).attr("height", 62).attr("fill", INK));
headings.forEach(([s, x, yb, size, len, bold]) => label(textG, x, yb, s, {size, len, weight: bold ? "bold" : null}));
ibukiText.forEach(([s, yb, len]) => label(textG, 1553, yb, s, {size: 58, len}));
const probe = label(textG, 0, -200, ibukiText[0][0], {size: 58});
const squeeze = ibukiText[0][2] / probe.node().getComputedTextLength();
probe.remove();
mitoyoText.forEach(([s, yb]) => {
  const tx = label(textG, 1555, yb, s, {size: 58});
  tx.attr("textLength", tx.node().getComputedTextLength() * squeeze).attr("lengthAdjust", "spacingAndGlyphs");
});

// f0 panels
lineChart({title: "kishiwada-1", titleLen: 144, box: [171, 420, 1222, 860], xd: [-0.082, 2.213], yd: [-4.52, 1.87],
  xTicks: [0, 0.5, 1, 1.5, 2], yTicks: [-4, -3, -2, -1, 0, 1],
  series: [{name: "yanagi-niwa", data: kishi1Niwa, type: "dot"}, {name: "yamai-mura", data: kishi1Mura, type: "plus"}],
  bounds: kishi1Bounds, words: kishi1Words, notes: kishi1Notes, legend: {x: 1090, y: 452, gap: 36}});
lineChart({title: "kishiwada-2", titleLen: 144, box: [1376, 420, 2431, 860], xd: [-0.082, 2.163], yd: [-4.33, 2.07],
  xTicks: [0, 0.5, 1, 1.5, 2], yTicks: [-4, -3, -2, -1, 0, 1, 2],
  series: [{name: "yanagi-niwa", data: kishi2Niwa, type: "dot"}, {name: "yamai-mura", data: kishi2Mura, type: "plus"}],
  bounds: kishi2Bounds, words: kishi2Words, notes: kishi2Notes, legend: {x: 2304, y: 452, gap: 36}});
lineChart({title: "ibuki-2", box: [171, 1760, 1222, 2202], xd: [-0.084, 2.256], yd: [-4.77, 1.79],
  xTicks: [0, 0.5, 1, 1.5, 2], yTicks: [-4, -3, -2, -1, 0, 1],
  series: [{name: "yanagi-niwa", data: ibuki2Niwa, type: "dot"}, {name: "nori-mame", data: ibuki2Mame, type: "plus"}, {name: "yamai-mura", data: ibuki2Mura, type: "square"}],
  bounds: ibuki2Bounds, words: ibuki2Words, notes: ibuki2Notes, rings: ibuki2Rings, legend: {x: 1093, y: 1789, gap: 26.5}});
lineChart({title: "ibuki-5", box: [1375, 1760, 2431, 2202], xd: [-0.092, 2.407], yd: [-3.15, 1.57],
  xTicks: [0, 0.5, 1, 1.5, 2], yTicks: [-3, -2, -1, 0, 1],
  series: [{name: "yanagi-niwa", data: ibuki5Niwa, type: "dot"}, {name: "nori-mame", data: ibuki5Mame, type: "plus"}, {name: "yamai-mura", data: ibuki5Mura, type: "square"}],
  bounds: ibuki5Bounds, words: ibuki5Words, notes: ibuki5Notes, rings: ibuki5Rings, arrows: ibuki5Arrows, legend: {x: 2300, y: 1789, gap: 26.5}});
lineChart({title: "takase-3", box: [170, 4152, 1225, 4592], xd: [-0.101, 2.642], yd: [-2.79, 3.44],
  xTicks: [0, 0.5, 1, 1.5, 2, 2.5], yTicks: [-2, -1, 0, 1, 2, 3],
  series: [{name: "ayame-obi", data: takaseObi, type: "dot"}, {name: "nori-mame-pause", data: takaseMame, type: "plus"}, {name: "yamai-mura", data: takaseMura, type: "square"}],
  bounds: takaseBounds, words: takaseWords, notes: takaseNotes, legend: {x: 1044, y: 4180, gap: 27}});
lineChart({title: "saida-3", box: [1376, 4152, 2431, 4592], xd: [-0.086, 2.253], yd: [-6.27, 2.27],
  xTicks: [0, 0.5, 1, 1.5, 2], yTicks: [-6, -4, -2, 0, 2],
  series: [{name: "ayame-obi", data: saidaObi, type: "dot"}, {name: "nori-mame", data: saidaMame, type: "plus"}, {name: "yamai-mura", data: saidaMura, type: "square"}],
  bounds: saidaBounds, words: saidaWords, notes: saidaNotes, legend: {x: 2301, y: 4180, gap: 27}});

// scatter panels
scatter({title: "ibuki", box: [198, 2450, 766, 2942], xd: [-2.48, 0.681], yd: [-0.954, 1.10],
  xTicks: [-2, -1.5, -1, -0.5, 0, 0.5], yTicks: [-0.5, 0, 0.5, 1], rows: ibukiRows, col: 3,
  xLabel: "Valley 1", yLabel: "Valley 2"});
scatter({title: "ibuki", box: [925, 2450, 1491, 2942], xd: [-2.478, 0.667], yd: [-1.912, 1.234],
  xTicks: [-2, -1.5, -1, -0.5, 0, 0.5], yTicks: [-1.5, -1, -0.5, 0, 0.5, 1], rows: ibukiRows, col: 4,
  xLabel: "Valley 1", yLabel: "Valley 3"});
scatter({title: "mitoyo", box: [198, 4800, 766, 5292], xd: [0.478, 1.838], yd: [-0.485, 1.025],
  xTicks: [0.6, 0.8, 1, 1.2, 1.4, 1.6, 1.8], yTicks: [-0.4, -0.2, 0, 0.2, 0.4, 0.6, 0.8, 1], rows: mitoyoRows, col: 3,
  xLabel: null, yLabel: "Peak 2"});
scatter({title: "mitoyo", box: [925, 4800, 1491, 5292], xd: [0.48, 1.837], yd: [-1.63, 1.116],
  xTicks: [0.6, 0.8, 1, 1.2, 1.4, 1.6, 1.8], yTicks: [-1.5, -1, -0.5, 0, 0.5, 1], rows: mitoyoRows, col: 4,
  xLabel: null, yLabel: "Peak 3"});
</script>
</body>
</html>
